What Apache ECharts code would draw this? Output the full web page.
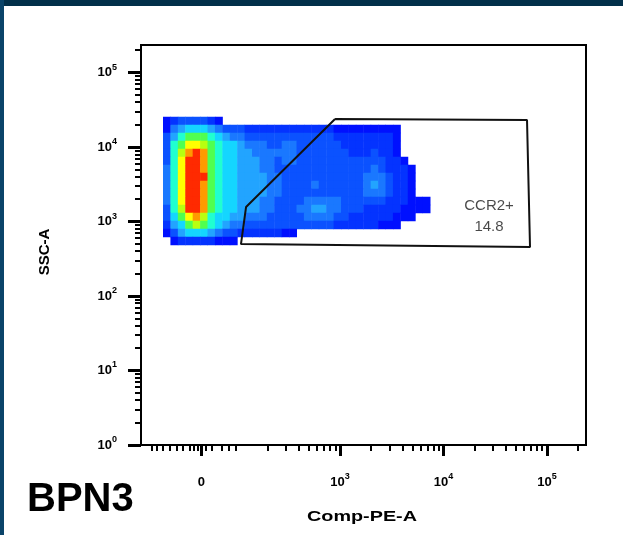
<!DOCTYPE html>
<html>
<head>
<meta charset="utf-8">
<title>BPN3 - CCR2+</title>
<script src="https://cdn.jsdelivr.net/npm/echarts@6/dist/echarts.min.js"></script>
<style>
  html, body { margin: 0; padding: 0; background: #fff; }
  #plot { width: 623px; height: 535px; }
</style>
</head>
<body>
<div id="plot"></div>
<script>
// axes are in display units: x = decades of Comp-PE-A (biex, "0" sits at 1.66), y = log10(SSC-A)
var xRange = [1.077, 5.377];
var yRange = [0, 5.37];

var xZeroPos = 1.66;
var xLabelTicks = [xZeroPos, 3, 4, 5];
var xNearZeroTicks = [1.184, 1.232, 1.290, 1.357, 1.425, 1.483, 1.551, 1.589, 1.627, 1.705, 1.763, 1.860, 1.928, 1.995];
var yLabelTicks = [0, 1, 2, 3, 4, 5];

// gate polygon
var gateX = [2.952, 4.807, 4.836, 2.043, 2.092, 2.952];
var gateY = [4.376, 4.362, 2.658, 2.698, 3.195, 4.376];
var gateName = 'CCR2+';
var gatePct = 14.8;
var gateLabelAt = [4.44, 3.07];

// density: one string per cell row (top first), one hex level per cell, 0 = empty
// spaces are only there to keep the groups readable
var densityCols = 60;
var densityRows = 50;
var densityCol0 = 3;
var densityRow0 = 9;
var densityLevels = [
  '12333321',
  '1456665433 3 222222222222 111111111',
  '3578887654 4333 333333333 22222222 1',
  '378aa98766 5444 33443333 33 2222222 1',
  '379bcb8766 5544 4444 3 333333 222322 1',
  '37accb8766 5554 4344 333333333333 22 1',
  '47accb8766 5554 43 333333333333 43 222 1',
  '47accc8766 5555 44 33333333333 444 3 22 1',
  '47accb8766 5555 44 3333 4 333333 454 3 22 1',
  '47accb8766 5555 44 33333333333 444 3 22 1',
  '47accb8766 5554 43333 44444 333333 222 111',
  '379ccb8766 5554 4333 4455 44 333 22222 1111',
  '368ab97665 5444 3333 3 4444 33 222222 111',
  '2568987654 43 33333333333 222222 111',
  '1356665433 222222 11',
  '0122222111'
];
var levelColors = ['#0010ff', '#0433ff', '#0b52ff', '#1a78ff', '#22a4ff', '#14d6ff',
  '#20ffd0', '#50ff50', '#b8ff10', '#ffff00', '#ff9a00', '#ff2a00'];

var FONT = '"Liberation Sans", Arial, Helvetica, sans-serif';

function logMinors(fromDecade, toDecade) {
  var out = [];
  for (var d = fromDecade; d < toDecade; d++) {
    for (var k = 2; k <= 9; k++) out.push(d + Math.log10(k));
  }
  return out;
}
var xMinorTicks = xNearZeroTicks.concat(logMinors(2, 5), [5 + Math.log10(2)]);
var yMinorTicks = logMinors(0, 5).concat([5 + Math.log10(2)]);

var heatData = [];
densityLevels.forEach(function (row, r) {
  var cells = row.replace(/ /g, '');
  for (var c = 0; c < cells.length; c++) {
    var v = parseInt(cells[c], 16);
    if (v > 0) heatData.push([densityCol0 + c, densityRow0 + r, v]);
  }
});

var colCats = [];
for (var i = 0; i < densityCols; i++) colCats.push(i);
var rowCats = [];
for (var j = 0; j < densityRows; j++) rowCats.push(j);

var powRich = {
  b: { fontFamily: FONT, fontSize: 13, fontWeight: 'bold', color: '#000', lineHeight: 20 },
  e: { fontFamily: FONT, fontSize: 9, fontWeight: 'bold', color: '#000', lineHeight: 8, verticalAlign: 'top' }
};

var chart = echarts.init(document.getElementById('plot'));
chart.setOption({
  animation: false,
  backgroundColor: '#fff',
  grid: {
    left: 141, top: 45, width: 445, height: 400,
    show: true, borderColor: '#000', borderWidth: 2, backgroundColor: 'transparent',
    outerBoundsMode: 'none'
  },
  xAxis: [
    { type: 'category', data: colCats, show: false },
    {
      type: 'value', min: xRange[0], max: xRange[1], position: 'bottom',
      axisLine: { show: false }, splitLine: { show: false },
      axisTick: { show: true, customValues: xLabelTicks, length: 11, lineStyle: { color: '#000', width: 3 } },
      axisLabel: {
        show: true, customValues: xLabelTicks, margin: 27, rich: powRich,
        formatter: function (v) {
          return v === xZeroPos ? '{b|0}' : '{b|10}{e|' + Math.round(v) + '}';
        }
      }
    },
    {
      type: 'value', min: xRange[0], max: xRange[1], position: 'bottom',
      axisLine: { show: false }, splitLine: { show: false },
      axisTick: { show: true, customValues: xMinorTicks, length: 6, lineStyle: { color: '#000', width: 2 } },
      axisLabel: { show: false }
    }
  ],
  yAxis: [
    { type: 'category', data: rowCats, show: false, inverse: true },
    {
      type: 'value', min: yRange[0], max: yRange[1], position: 'left',
      axisLine: { show: false }, splitLine: { show: false },
      axisTick: { show: true, customValues: yLabelTicks, length: 13, lineStyle: { color: '#000', width: 3 } },
      axisLabel: {
        show: true, customValues: yLabelTicks, margin: 24, rich: powRich,
        formatter: function (v) { return '{b|10}{e|' + Math.round(v) + '}'; }
      }
    },
    {
      type: 'value', min: yRange[0], max: yRange[1], position: 'left',
      axisLine: { show: false }, splitLine: { show: false },
      axisTick: { show: true, customValues: yMinorTicks, length: 6, lineStyle: { color: '#000', width: 2 } },
      axisLabel: { show: false }
    }
  ],
  visualMap: {
    type: 'piecewise', show: false, seriesIndex: 0, dimension: 2,
    pieces: levelColors.map(function (c, k) { return { value: k + 1, color: c }; })
  },
  series: [
    {
      type: 'heatmap', xAxisIndex: 0, yAxisIndex: 0, data: heatData,
      silent: true, emphasis: { disabled: true }
    },
    {
      type: 'line', xAxisIndex: 1, yAxisIndex: 1, silent: true, symbol: 'none', z: 5,
      data: gateX.map(function (x, k) { return [x, gateY[k]]; }),
      lineStyle: { color: '#111', width: 2 }
    },
    {
      type: 'scatter', xAxisIndex: 1, yAxisIndex: 1, silent: true, symbolSize: 0, z: 6,
      data: [gateLabelAt],
      label: {
        show: true, position: 'inside', formatter: gateName + '\n' + gatePct,
        fontFamily: FONT, fontSize: 15, lineHeight: 21, color: '#1a1a1a'
      }
    }
  ],
  graphic: [
    { type: 'rect', shape: { x: 0, y: 0, width: 623, height: 6 }, style: { fill: '#02304a' }, silent: true },
    { type: 'rect', shape: { x: 0, y: 0, width: 4, height: 535 }, style: { fill: '#0a4469' }, silent: true },
    {
      type: 'text', x: 45, y: 252, rotation: Math.PI / 2, silent: true,
      style: { text: 'SSC-A', font: 'bold 15px ' + FONT, fill: '#000', textAlign: 'center', textVerticalAlign: 'middle' }
    },
    {
      type: 'text', x: 362, y: 517, scaleX: 1.32, silent: true,
      style: { text: 'Comp-PE-A', font: 'bold 15px ' + FONT, fill: '#000', textAlign: 'center', textVerticalAlign: 'middle' }
    },
    {
      type: 'text', x: 27, y: 500, silent: true,
      style: { text: 'BPN3', font: 'bold 40px ' + FONT, fill: '#000', textAlign: 'left', textVerticalAlign: 'middle' }
    }
  ]
});
</script>
</body>
</html>
